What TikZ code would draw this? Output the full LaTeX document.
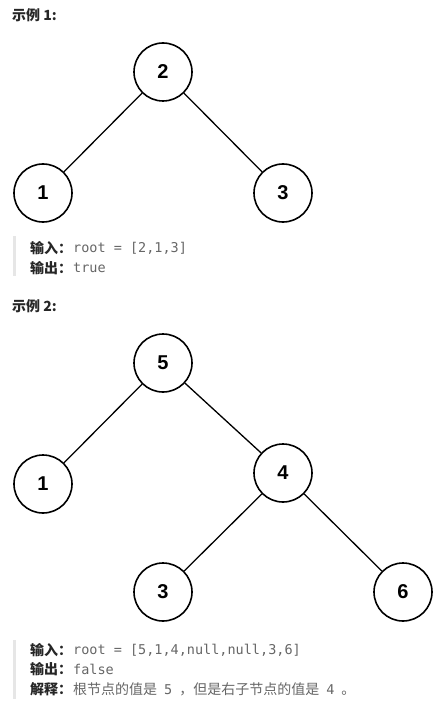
\documentclass[tikz,border=0pt]{standalone}
\usepackage{fontspec}
\setmainfont{Liberation Sans}
\setmonofont{DejaVu Sans Mono}
\newfontfamily\cjk{Noto Sans CJK SC}
\definecolor{codegray}{HTML}{666666}
\definecolor{txt}{HTML}{262626}
\definecolor{barc}{HTML}{E6E6E6}
\begin{document}
\begin{tikzpicture}[x=1pt,y=-1pt,
  tn/.style={circle,draw,line width=1.6pt,minimum size=58pt,inner sep=0pt,font=\fontsize{20}{20}\selectfont\bfseries},
  edge/.style={line width=1.3pt},
  head/.style={anchor=west,inner sep=0pt,font=\cjk\fontsize{14}{14}\selectfont\bfseries,text=txt},
  lbl/.style={anchor=west,inner sep=0pt,font=\cjk\fontsize{14}{14}\selectfont\bfseries,text=txt},
  code/.style={anchor=west,inner sep=0pt,font=\ttfamily\fontsize{13.5}{13.5}\selectfont,text=codegray},
  bar/.style={draw=barc,line width=3pt}]
\useasboundingbox (0,0) rectangle (447,703);
% Example 1
\node[head] (h1) at (12,15) {示例 1:};
\node[tn] (a2) at (163,72) {2};
\node[tn] (a1) at (43,193) {1};
\node[tn] (a3) at (283,193) {3};
\draw[edge] (a2) -- (a1);
\draw[edge] (a2) -- (a3);
\coordinate (b1s) at (14,236);
\coordinate (b1e) at (14,276);
\draw[bar] (b1s) -- (b1e);
\node[lbl] (in1) at (30,248) {输入：};
\node[code] (in1v) at (73,248) {root = [2,1,3]};
\node[lbl] (out1) at (30,268) {输出：};
\node[code] (out1v) at (73,268) {true};
% Example 2
\node[head] (h2) at (12,306) {示例 2:};
\node[tn] (c5) at (163,363) {5};
\node[tn] (c1) at (43,484) {1};
\node[tn] (c4) at (283,473) {4};
\node[tn] (c3) at (163,592) {3};
\node[tn] (c6) at (403,592) {6};
\draw[edge] (c5) -- (c1);
\draw[edge] (c5) -- (c4);
\draw[edge] (c4) -- (c3);
\draw[edge] (c4) -- (c6);
\coordinate (b2s) at (14,640);
\coordinate (b2e) at (14,699);
\draw[bar] (b2s) -- (b2e);
\node[lbl] (in2) at (30,650) {输入：};
\node[code] (in2v) at (73,650) {root = [5,1,4,null,null,3,6]};
\node[lbl] (out2) at (30,669) {输出：};
\node[code] (out2v) at (73,669) {false};
\node[lbl] (ex2) at (30,689) {解释：};
\node[anchor=west,inner sep=0pt,font=\cjk\fontsize{14}{14}\selectfont,text=codegray] (ex2v) at (73,689) {根节点的值是\hspace{7pt}{\ttfamily\fontsize{13.5}{13.5}\selectfont 5}\hspace{7pt}，但是右子节点的值是\hspace{7pt}{\ttfamily\fontsize{13.5}{13.5}\selectfont 4}\hspace{7pt}。};
\end{tikzpicture}
\end{document}
